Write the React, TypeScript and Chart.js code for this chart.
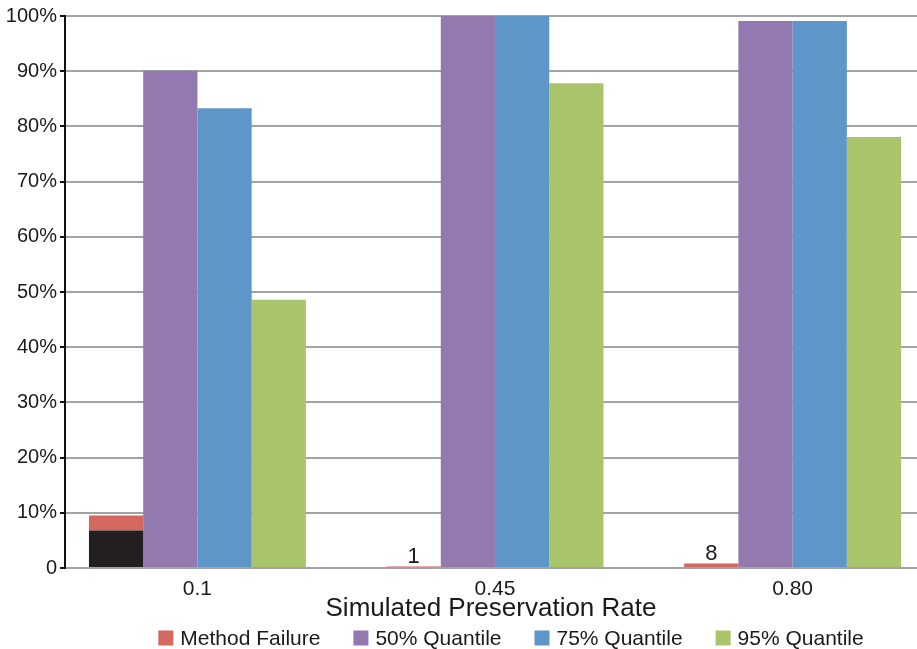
import React, { useEffect, useRef } from "react";
import { Chart, registerables } from "chart.js";

Chart.register(...registerables);

// Simulated preservation rates on the category axis
const categories = ["0.1", "0.45", "0.80"];

// Percent of runs per outcome at each preservation rate
const failureBase = [6.8, 0, 0];
const methodFailure = [2.7, 0.25, 0.8];
const failureCountLabels = ["", "1", "8"];
const quantile50 = [90.1, 100, 99.1];
const quantile75 = [83.3, 100, 99.1];
const quantile95 = [48.6, 87.8, 78.1];

const yTickValues = [0, 10, 20, 30, 40, 50, 60, 70, 80, 90, 100];

const FONT = '"Liberation Sans", Arial, Helvetica, sans-serif';
const TEXT = "#1a1a1a";

const COLORS = {
  base: "#231f20",
  failure: "#d4675e",
  q50: "#9279b0",
  q75: "#5f96ca",
  q95: "#a9c46a",
};

// Bottom legend: box, label, spacing between entries
const LEGEND = { box: 15, boxGap: 7, itemGap: 33, fontSize: 21, centerX: 511, centerY: 638 };

const bottomLegend = {
  id: "bottomLegend",
  afterDraw(chart: any) {
    const ctx = chart.ctx as CanvasRenderingContext2D;
    ctx.save();
    ctx.font = `${LEGEND.fontSize}px ${FONT}`;
    const items = chart.data.datasets.filter((d: any) => d.label);
    const widths = items.map(
      (d: any) => LEGEND.box + LEGEND.boxGap + ctx.measureText(d.label).width
    );
    const total =
      widths.reduce((a: number, b: number) => a + b, 0) + LEGEND.itemGap * (items.length - 1);
    let x = LEGEND.centerX - total / 2;
    items.forEach((d: any, i: number) => {
      ctx.fillStyle = d.backgroundColor;
      ctx.fillRect(x, LEGEND.centerY - LEGEND.box / 2, LEGEND.box, LEGEND.box);
      ctx.fillStyle = TEXT;
      ctx.textAlign = "left";
      ctx.textBaseline = "middle";
      ctx.fillText(d.label, x + LEGEND.box + LEGEND.boxGap, LEGEND.centerY + 1);
      x += widths[i] + LEGEND.itemGap;
    });
    ctx.restore();
  },
};

// Failure counts written above the failure bars
const failureCounts = {
  id: "failureCounts",
  afterDatasetsDraw(chart: any) {
    const idx = chart.data.datasets.findIndex((d: any) => d.label === "Method Failure");
    const meta = chart.getDatasetMeta(idx);
    const ctx = chart.ctx as CanvasRenderingContext2D;
    ctx.save();
    ctx.font = `22px ${FONT}`;
    ctx.fillStyle = TEXT;
    ctx.textAlign = "center";
    ctx.textBaseline = "alphabetic";
    meta.data.forEach((bar: any, i: number) => {
      const text = failureCountLabels[i];
      if (!text) return;
      ctx.fillText(text, bar.x, bar.y - 4);
    });
    ctx.restore();
  },
};

const toPoints = (values: number[]) => values.map((y, i) => ({ x: i, y }));

export default function App() {
  const canvasRef = useRef<HTMLCanvasElement | null>(null);

  useEffect(() => {
    if (!canvasRef.current) return;
    const chart = new Chart(canvasRef.current, {
      type: "bar",
      data: {
        datasets: [
          {
            label: "",
            data: toPoints(failureBase),
            backgroundColor: COLORS.base,
            stack: "failure",
          },
          {
            label: "Method Failure",
            data: toPoints(methodFailure),
            backgroundColor: COLORS.failure,
            stack: "failure",
          },
          {
            label: "50% Quantile",
            data: toPoints(quantile50),
            backgroundColor: COLORS.q50,
            stack: "q50",
          },
          {
            label: "75% Quantile",
            data: toPoints(quantile75),
            backgroundColor: COLORS.q75,
            stack: "q75",
          },
          {
            label: "95% Quantile",
            data: toPoints(quantile95),
            backgroundColor: COLORS.q95,
            stack: "q95",
          },
        ],
      },
      options: {
        responsive: false,
        animation: false,
        devicePixelRatio: 1,
        layout: { padding: { top: 16, left: 0, right: 0, bottom: 0 } },
        datasets: {
          bar: { categoryPercentage: 0.729, barPercentage: 1, borderWidth: 0 },
        },
        plugins: {
          legend: { display: false },
          tooltip: { enabled: false },
        },
        scales: {
          x: {
            type: "linear",
            offset: false,
            min: -0.445,
            max: 2.418,
            grid: { display: false, drawTicks: false, offset: false },
            border: { display: false },
            afterBuildTicks(scale: any) {
              scale.ticks = categories.map((_, i) => ({ value: i }));
            },
            afterFit(scale: any) {
              scale.height = 81;
            },
            ticks: {
              autoSkip: false,
              maxRotation: 0,
              padding: 9,
              color: TEXT,
              font: { family: FONT, size: 21 },
              callback: (v: any) => categories[v as number] ?? "",
            },
            title: {
              display: true,
              text: "Simulated Preservation Rate",
              color: TEXT,
              font: { family: FONT, size: 26 },
              padding: { top: 0, bottom: 25 },
            },
          },
          y: {
            stacked: true,
            min: 0,
            max: 100,
            afterBuildTicks(scale: any) {
              scale.ticks = yTickValues.map((value) => ({ value }));
            },
            afterFit(scale: any) {
              scale.width = 65;
            },
            grid: {
              color: "#a3a3a3",
              lineWidth: 2,
              tickColor: "#111",
              tickLength: 5,
            },
            border: { display: true, color: "#111", width: 2 },
            ticks: {
              padding: 3,
              color: TEXT,
              font: { family: FONT, size: 20 },
              callback: (v: any) => (Number(v) === 0 ? "0" : `${v}%`),
            },
          },
        },
      },
      plugins: [bottomLegend, failureCounts],
    });
    return () => chart.destroy();
  }, []);

  return (
    <div style={{ position: "absolute", left: 0, top: 0, width: 917, height: 649, background: "#fff" }}>
      <canvas ref={canvasRef} width={917} height={649} />
    </div>
  );
}
